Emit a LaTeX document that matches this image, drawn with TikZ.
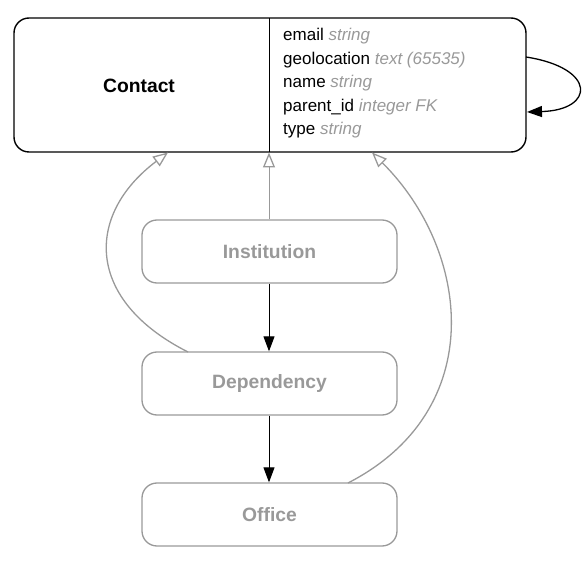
\documentclass[tikz,border=0pt]{standalone}
\usepackage{fontspec}
\setmainfont{Liberation Sans}
\usetikzlibrary{arrows.meta}
\definecolor{fade}{HTML}{999999}
\tikzset{
  x=1pt, y=-1pt,
  mainbox/.style={draw=black, line width=1.4pt, rounded corners=15pt, minimum width=512pt, minimum height=134pt, inner sep=0pt},
  subbox/.style={draw=fade, line width=1.3pt, rounded corners=15pt, minimum width=255pt, minimum height=63pt, inner sep=0pt, text=fade, font=\fontsize{19.3}{21}\selectfont\bfseries},
  inherit/.style={draw=fade, line width=1.3pt, -{Triangle[open, length=15pt, width=12pt, line width=1.3pt]}},
  assoc/.style={draw=black, line width=1pt, -{Triangle[length=15pt, width=11pt]}},
  fieldtxt/.style={font=\fontsize{17}{23.6}\selectfont, align=left, inner sep=0pt}
}
\newcommand{\tyname}[1]{\textcolor{fade}{\itshape #1}}
\begin{document}
\begin{tikzpicture}
\useasboundingbox (0,0) rectangle (582,564);
\node[mainbox] (contact) at (270,85) {};
\draw[line width=1pt] (269,18) -- (269,152);
\node[font=\fontsize{19.3}{21}\selectfont\bfseries] (cname) at (139,86) {Contact};
\node[fieldtxt, anchor=north west] (fields) at (283,28) {email \tyname{string}\\
geolocation \tyname{text (65535)}\\
name \tyname{string}\\
parent\_id \tyname{integer FK}\\
type \tyname{string}};
\node[subbox] (inst) at (269.5,251.5) {Institution};
\node[subbox] (dep) at (269.5,383.5) {Dependency};
\node[subbox] (office) at (269.5,514.5) {Office};
\coordinate (t1) at (168,152.5);
\coordinate (t2) at (269,152.5);
\coordinate (t3) at (372,152.5);
\coordinate (s2) at (188,352);
\coordinate (s3) at (348,483);
\draw[inherit, line width=0.8pt] (inst.north -| t2) -- (t2);
\draw[inherit] (s2) .. controls (85,300) and (85,215) .. (t1);
\draw[inherit] (s3) .. controls (490,410) and (470,250) .. (t3);
\draw[assoc] (inst.south -| t2) -- (dep.north -| t2);
\draw[assoc] (dep.south -| t2) -- (office.north -| t2);
\coordinate (l1) at (526,57);
\coordinate (l2) at (527,112);
\draw[assoc, line width=1.3pt] (l1) .. controls (597,68) and (595,110) .. (l2);
\end{tikzpicture}
\end{document}
